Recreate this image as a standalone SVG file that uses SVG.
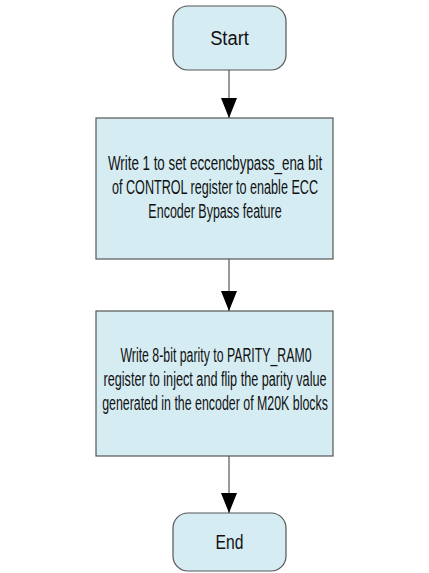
<svg xmlns="http://www.w3.org/2000/svg" width="429" height="573" viewBox="0 0 429 573">
<style>
.node{fill:#d5ecf3;stroke:#555;stroke-width:1.2}
.t{font-family:"Liberation Sans",Arial,sans-serif;font-size:20px;fill:#111;text-anchor:middle}
.c{stroke:#555;stroke-width:1.2;fill:none}
</style>
<defs>
<marker id="ah" markerWidth="20" markerHeight="16" refX="20" refY="8" orient="auto" markerUnits="userSpaceOnUse">
<path d="M0,0 L20,8 L0,16 Z" fill="#000"/>
</marker>
</defs>
<g id="start"><rect class="node" x="173" y="6" width="113" height="64" rx="15"/><text class="t" transform="translate(229.5,45) scale(0.68,1)" textLength="57" lengthAdjust="spacingAndGlyphs">Start</text></g>
<g id="step1"><rect class="node" x="96" y="118" width="237" height="141"/>
<text class="t" transform="translate(215,170) scale(0.68,1)" textLength="315" lengthAdjust="spacingAndGlyphs">Write 1 to set eccencbypass_ena bit</text>
<text class="t" transform="translate(215,194) scale(0.68,1)" textLength="303" lengthAdjust="spacingAndGlyphs">of CONTROL register to enable ECC</text>
<text class="t" transform="translate(215,218) scale(0.68,1)" textLength="196" lengthAdjust="spacingAndGlyphs">Encoder Bypass feature</text></g>
<g id="step2"><rect class="node" x="96" y="311" width="237" height="145"/>
<text class="t" transform="translate(216,362) scale(0.68,1)" textLength="281" lengthAdjust="spacingAndGlyphs">Write 8-bit parity to PARITY_RAM0</text>
<text class="t" transform="translate(215,386) scale(0.68,1)" textLength="328" lengthAdjust="spacingAndGlyphs">register to inject and flip the parity value</text>
<text class="t" transform="translate(215,410) scale(0.68,1)" textLength="332" lengthAdjust="spacingAndGlyphs">generated in the encoder of M20K blocks</text></g>
<g id="end"><rect class="node" x="173" y="513" width="113" height="58" rx="15"/><text class="t" transform="translate(229.5,549) scale(0.68,1)" textLength="41" lengthAdjust="spacingAndGlyphs">End</text></g>
<g id="connectors">
<line class="c" x1="229" y1="70" x2="229" y2="118" marker-end="url(#ah)"/>
<line class="c" x1="229" y1="259" x2="229" y2="311" marker-end="url(#ah)"/>
<line class="c" x1="229" y1="456" x2="229" y2="513" marker-end="url(#ah)"/>
</g>
</svg>
